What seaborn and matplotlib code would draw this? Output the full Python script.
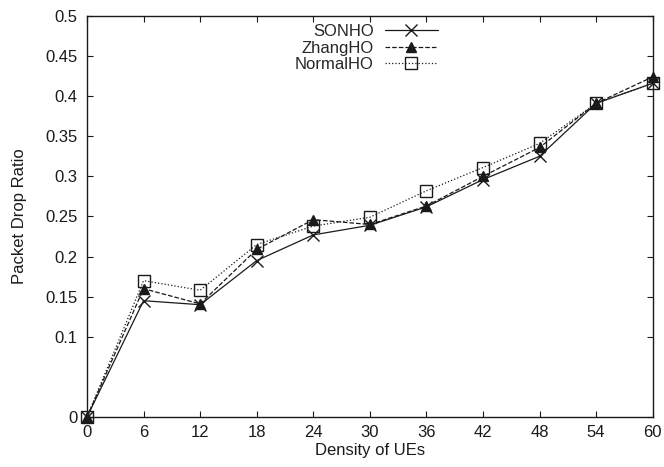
import matplotlib
matplotlib.use("Agg")
import matplotlib.pyplot as plt
import seaborn as sns
import pandas as pd

density = [0, 6, 12, 18, 24, 30, 36, 42, 48, 54, 60]
sonho = [0.0, 0.145, 0.140, 0.195, 0.227, 0.239, 0.262, 0.296, 0.325, 0.391, 0.416]
zhangho = [0.0, 0.160, 0.141, 0.209, 0.246, 0.240, 0.263, 0.300, 0.336, 0.391, 0.424]
normalho = [0.0, 0.170, 0.158, 0.215, 0.238, 0.249, 0.282, 0.311, 0.341, 0.391, 0.416]
yticks = [0, 0.1, 0.15, 0.2, 0.25, 0.3, 0.35, 0.4, 0.45, 0.5]
ytick_labels = ["0", "0.1", "0.15", "0.2", "0.25", "0.3", "0.35", "0.4", "0.45", "0.5"]

sns.set_theme(style="ticks")
plt.rcParams['font.family'] = ['Liberation Sans', 'DejaVu Sans']
plt.rcParams['font.size'] = 12

fig, ax = plt.subplots(figsize=(6.64, 4.67), dpi=100)
fig.subplots_adjust(left=0.131, right=0.983, top=0.966, bottom=0.107)

series = [
    ("SONHO", sonho, "x", "-", "none"),
    ("ZhangHO", zhangho, "^", "--", "k"),
    ("NormalHO", normalho, "s", ":", "none"),
]
for name, vals, mk, ls, fc in series:
    df = pd.DataFrame({"x": density, "y": vals})
    sns.lineplot(data=df, x="x", y="y", ax=ax, color="k", marker=mk,
                 linestyle=ls, linewidth=0.9, markersize=9 if mk != "^" else 7,
                 markerfacecolor=fc, markeredgecolor="k", markeredgewidth=1.0,
                 label=name, clip_on=False, zorder=3)

ax.set_xlim(0, 60)
ax.set_ylim(0, 0.5)
ax.set_xticks(density)
ax.set_yticks(yticks)
ax.set_yticklabels(ytick_labels)
ax.tick_params(direction="in", length=4.5, width=0.8, top=True, right=True,
               labelsize=12, colors="k")
ax.tick_params(axis="y", pad=7)
ax.tick_params(axis="x", pad=6)
for s in ax.spines.values():
    s.set_visible(True)
    s.set_color("k")
    s.set_linewidth(1.0)
ax.set_xlabel("Density of UEs", fontsize=12, color="k", labelpad=2)
ax.set_ylabel("Packet Drop Ratio", fontsize=12, color="k", labelpad=13)

leg = ax.legend(loc="upper right", bbox_to_anchor=(0.635, 1.0), frameon=False,
                markerfirst=False, handlelength=3.2, fontsize=12,
                labelspacing=0.08, handletextpad=0.66, borderaxespad=0.1)
try:
    for col in leg._legend_handle_box.get_children():
        col.align = "right"
except Exception:
    pass

fig.savefig("out.png", dpi=100)
